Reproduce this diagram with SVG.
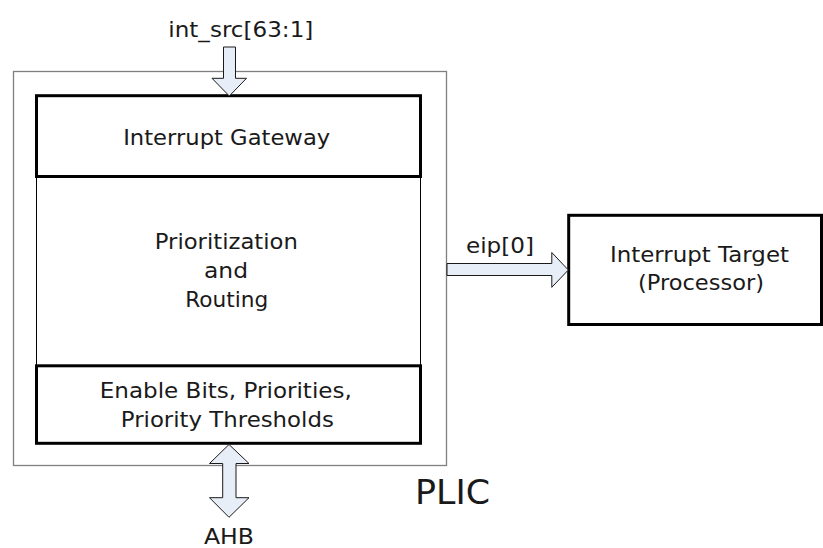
<svg xmlns="http://www.w3.org/2000/svg" width="823" height="548" viewBox="0 0 823 548">
<style>
  text { font-family: "DejaVu Sans", "Liberation Sans", sans-serif; font-size: 22px; fill: #1a1a1a; text-anchor: middle; }
  .big { font-size: 34px; }
  .thick { fill: #ffffff; stroke: #000000; stroke-width: 3; }
  .thin { fill: #ffffff; stroke: #000000; stroke-width: 1; }
  .outer { fill: #ffffff; stroke: #7f7f7f; stroke-width: 1.3; }
  .arrow { fill: #e8eef8; stroke: #1a1a1a; stroke-width: 1; stroke-linejoin: miter; }
</style>
<rect width="823" height="548" fill="#ffffff"/>
<g id="plic">
  <rect class="outer" x="13.5" y="71.5" width="433" height="394"/>
  <text class="big" x="452.5" y="504" textLength="75" lengthAdjust="spacingAndGlyphs">PLIC</text>
</g>
<g id="prioritization">
  <rect class="thin" x="36.5" y="96" width="384" height="347"/>
  <text x="226.3" y="248.5" textLength="143" lengthAdjust="spacingAndGlyphs">Prioritization</text>
  <text x="226" y="278" textLength="44" lengthAdjust="spacingAndGlyphs">and</text>
  <text x="226.7" y="307" textLength="83" lengthAdjust="spacingAndGlyphs">Routing</text>
</g>
<g id="gateway">
  <rect class="thick" x="36.5" y="95.7" width="384" height="80.8"/>
  <text x="226.7" y="145" textLength="207" lengthAdjust="spacingAndGlyphs">Interrupt Gateway</text>
</g>
<g id="enable">
  <rect class="thick" x="36.5" y="365.8" width="384" height="77.5"/>
  <text x="225.8" y="398" textLength="252" lengthAdjust="spacingAndGlyphs">Enable Bits, Priorities,</text>
  <text x="227.3" y="426.5" textLength="213" lengthAdjust="spacingAndGlyphs">Priority Thresholds</text>
</g>
<g id="target">
  <rect class="thick" x="568.7" y="215.3" width="252.8" height="109.2"/>
  <text x="699.5" y="261.7" textLength="179" lengthAdjust="spacingAndGlyphs">Interrupt Target</text>
  <text x="701" y="290" textLength="126" lengthAdjust="spacingAndGlyphs">(Processor)</text>
</g>
<g id="connectors">
  <polygon class="arrow" points="223.5,47 235.5,47 235.5,78.3 246.5,78.3 229.3,96 212,78.3 223.5,78.3"/>
  <polygon class="arrow" points="447,263.5 551.8,263.5 551.8,252.5 568.3,270 551.8,287.3 551.8,275.5 447,275.5"/>
  <polygon class="arrow" points="229,444.5 249,463.5 236,463.5 236,497.7 249,497.7 229,517.3 209.5,497.7 222.7,497.7 222.7,463.5 209.5,463.5"/>
  <text x="240.8" y="37" textLength="145" lengthAdjust="spacingAndGlyphs">int_src[63:1]</text>
  <text x="500" y="252.5" textLength="68" lengthAdjust="spacingAndGlyphs">eip[0]</text>
  <text x="229" y="544" textLength="50" lengthAdjust="spacingAndGlyphs">AHB</text>
</g>
</svg>
